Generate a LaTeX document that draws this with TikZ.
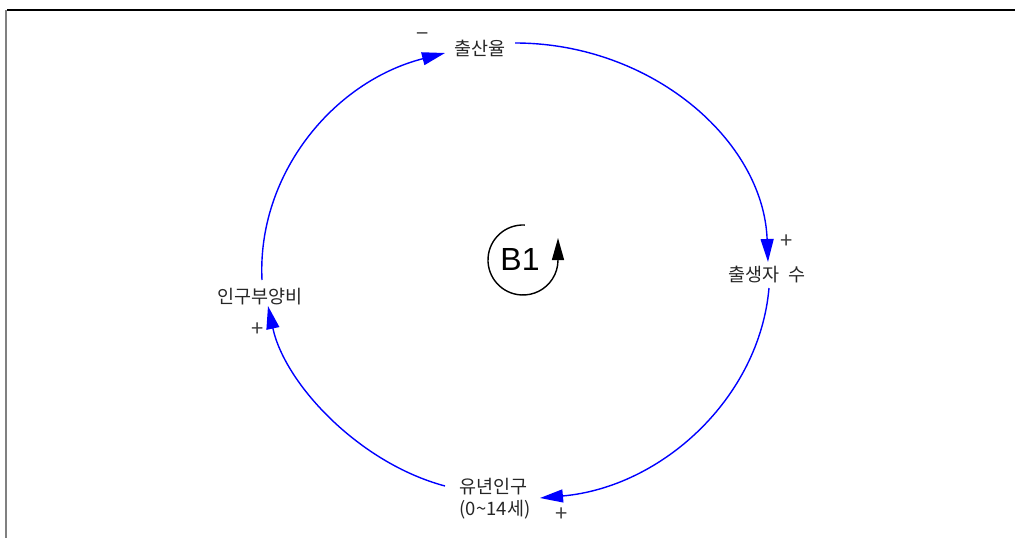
\documentclass[tikz,border=0pt]{standalone}
\usepackage{fontspec}
\newfontfamily\kr{Noto Sans CJK KR}
\newfontfamily\arialike{Liberation Sans}
\usetikzlibrary{arrows.meta}
\begin{document}
\begin{tikzpicture}[x=1pt,y=-1pt,
  lbl/.style={font=\kr\fontsize{18.5}{22}\selectfont, inner sep=0pt, text=black!85},
  sgn/.style={font=\kr\fontsize{22}{24}\selectfont, inner sep=0pt, text=black!75},
  link/.style={draw={rgb,255:red,0;green,0;blue,255}, line width=1.4pt,
    -{Triangle[length=23pt,width=13pt]}},
  loopline/.style={draw=black, line width=1.4pt, -{Triangle[length=22pt,width=12pt]}}]
\useasboundingbox (0,0) rectangle (1015,538);
% frame
\draw[black, line width=1.2pt] (7,10) -- (1015,10);
\draw[gray, line width=2pt] (6,10) -- (6,538);
% variables
\node[lbl] (top) at (480,48) {출산율};
\node[lbl] (rgt) at (767,275) {출생자\hspace{0.3em} 수};
\node[lbl] (lft) at (260,297) {인구부양비};
\node[lbl, align=left] (bot) at (495,499) {유년인구\\(0\textasciitilde14세)};
% polarities
\node[sgn] (s1) at (423,37) {−};
\node[sgn] (s2) at (787,242) {+};
\node[sgn] (s3) at (258,330) {+};
\node[sgn] (s4) at (562,515) {+};
% connectors
\draw[link] ([shift={(35,-5)}]top.center) .. controls +(136,0) and +(-4.7,-122) .. ([shift={(1,-13)}]rgt.center);
\draw[link] ([shift={(2,13)}]rgt.center) .. controls +(-9.6,109.8) and +(122.1,-10.9) .. ([shift={(45,-1)}]bot.center);
\draw[link] ([shift={(-50,-13)}]bot.center) .. controls +(-86,-23) and +(17,78) .. ([shift={(8,9)}]lft.center);
\draw[link] ([shift={(2,-17)}]lft.center) .. controls +(-5.1,-104.9) and +(-112.5,28.9) .. ([shift={(-35,5)}]top.center);
% loop identifier
\coordinate (b1c) at (523,260);
\node[font=\arialike\fontsize{32}{36}\selectfont, inner sep=0pt] (b1) at (520,259) {B1};
\draw[loopline] (b1c) ++(273:35) arc[start angle=273, end angle=0, radius=35] -- ++(0,-22);
\end{tikzpicture}
\end{document}
